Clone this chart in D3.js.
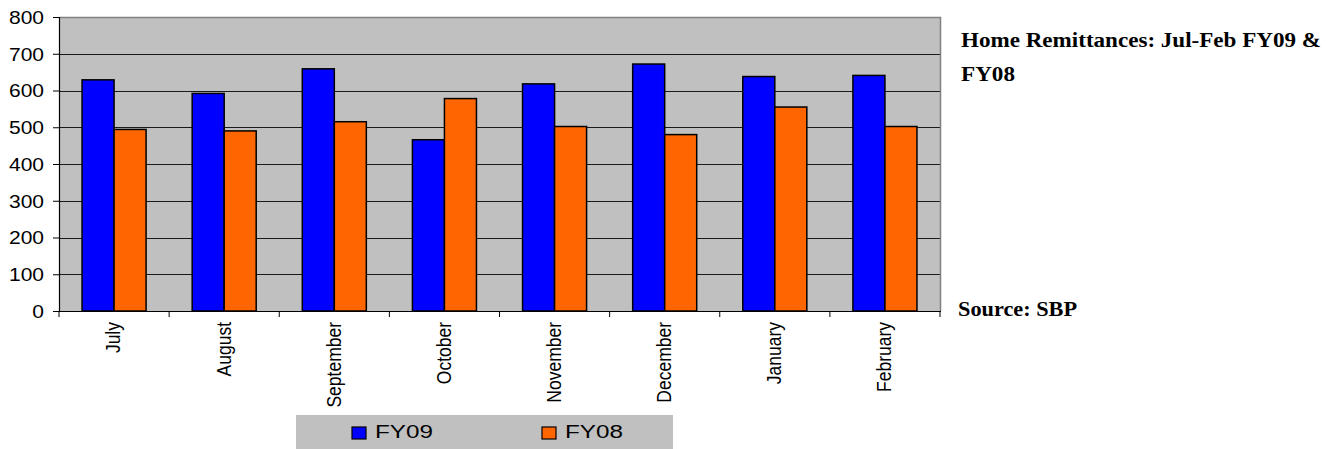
<!DOCTYPE html>
<html>
<head>
<meta charset="utf-8">
<script src="https://cdn.jsdelivr.net/npm/d3@7"></script>
<style>
html,body{margin:0;padding:0;background:#fff;}
svg{display:block;}
</style>
</head>
<body>
<svg id="chart" width="1339" height="449"></svg>
<script>
const months = ["July","August","September","October","November","December","January","February"];
const seriesNames = ["FY09","FY08"];
const fy09 = [629, 592, 659, 466, 618, 672, 638, 641];
const fy08 = [494, 490, 515, 578, 502, 480, 555, 502];
const yTicks = [0,100,200,300,400,500,600,700,800];
const colors = ["#0000ff","#ff6600"];
const titleLines = ["Home Remittances: Jul-Feb FY09 &","FY08"];
const sourceText = "Source: SBP";

(function(){
const svg = d3.select("#chart");
const pLeft = 59, pRight = 940, pTop = 17, pBottom = 311;

const x = d3.scaleBand().domain(months).range([pLeft, pRight]).padding(0);
const xs = d3.scaleBand().domain(seriesNames).range([0, x.bandwidth()]).paddingInner(0).paddingOuter(0.72);
const y = d3.scaleLinear().domain([0, 800]).range([pBottom, pTop]);

svg.append("rect").attr("x", pLeft).attr("y", pTop).attr("width", pRight-pLeft).attr("height", pBottom-pTop)
  .attr("fill", "#c0c0c0");

svg.append("g").selectAll("line").data(yTicks.filter(d => d > 0 && d < 800)).join("line")
  .attr("x1", pLeft).attr("x2", pRight)
  .attr("y1", d => Math.round(y(d)) + 0.5).attr("y2", d => Math.round(y(d)) + 0.5)
  .attr("stroke", "#1a1a1a").attr("stroke-width", 1);

svg.append("path")
  .attr("d", `M${pLeft},${pTop+0.5}H${pRight+0.5}V${pBottom}`)
  .attr("fill", "none").attr("stroke", "#808080").attr("stroke-width", 1.5);

const data = months.map((m, i) => ({month: m, vals: [{s: "FY09", v: fy09[i]}, {s: "FY08", v: fy08[i]}]}));
const groups = svg.append("g").selectAll("g").data(data).join("g")
  .attr("transform", d => `translate(${x(d.month)},0)`);
groups.selectAll("rect").data(d => d.vals).join("rect")
  .attr("x", d => xs(d.s))
  .attr("y", d => y(d.v))
  .attr("width", xs.bandwidth())
  .attr("height", d => y(0) - y(d.v))
  .attr("fill", (d, i) => colors[i])
  .attr("stroke", "#000").attr("stroke-width", 1.5);

const yAxis = svg.append("g").attr("transform", `translate(${pLeft},0)`)
  .call(d3.axisLeft(y).tickValues(yTicks).tickSize(6).tickPadding(0).tickFormat(d3.format("d")));
yAxis.select(".domain").attr("stroke", "#000").attr("stroke-width", 1.2);
yAxis.selectAll(".tick line").attr("stroke", "#000");
yAxis.selectAll(".tick text").remove();
yAxis.selectAll(".tick").append("text")
  .attr("transform", "translate(-15,0) scale(1.2,1)")
  .attr("text-anchor", "end").attr("dy", "0.36em")
  .attr("fill", "#000")
  .style("font-family", "Arial, 'Liberation Sans', sans-serif").style("font-size", "17.5px")
  .text(d => d);

const xAxis = svg.append("g").attr("transform", `translate(0,${pBottom})`);
xAxis.append("line").attr("x1", pLeft).attr("x2", pRight+1).attr("y1", 0.5).attr("y2", 0.5)
  .attr("stroke", "#000").attr("stroke-width", 1.2);
const boundaries = months.map(m => x(m)).concat([pRight]);
xAxis.selectAll("line.tk").data(boundaries).join("line").attr("class", "tk")
  .attr("x1", d => d).attr("x2", d => d).attr("y1", 0).attr("y2", 6)
  .attr("stroke", "#000");
xAxis.selectAll("text").data(months).join("text")
  .attr("transform", d => `translate(${x(d) + x.bandwidth()/2 - 1},11) scale(1.2,1) rotate(-90)`)
  .attr("text-anchor", "end").attr("dy", "0.35em")
  .attr("fill", "#000")
  .style("font-family", "Arial, 'Liberation Sans', sans-serif").style("font-size", "17.5px")
  .text(d => d);

const lg = svg.append("g");
lg.append("rect").attr("x", 296).attr("y", 415).attr("width", 377).attr("height", 34).attr("fill", "#c0c0c0");
const legX = [352, 542];
seriesNames.forEach((s, i) => {
  lg.append("rect").attr("x", legX[i]).attr("y", 427).attr("width", 14).attr("height", 12)
    .attr("fill", colors[i]).attr("stroke", "#000").attr("stroke-width", 1.2);
  lg.append("text").attr("x", legX[i] + 23).attr("y", 438)
    .attr("textLength", 58).attr("lengthAdjust", "spacingAndGlyphs")
    .style("font-family", "Arial, 'Liberation Sans', sans-serif").style("font-size", "18.5px")
    .attr("fill", "#000").text(s);
});

const tf = "'Liberation Serif', 'DejaVu Serif', serif";
svg.append("text").attr("x", 961).attr("y", 47)
  .attr("textLength", 360).attr("lengthAdjust", "spacingAndGlyphs")
  .style("font-family", tf).style("font-weight", "bold").style("font-size", "21.5px")
  .attr("fill", "#000").text(titleLines[0]);
svg.append("text").attr("x", 961).attr("y", 81)
  .attr("textLength", 54).attr("lengthAdjust", "spacingAndGlyphs")
  .style("font-family", tf).style("font-weight", "bold").style("font-size", "21.5px")
  .attr("fill", "#000").text(titleLines[1]);
svg.append("text").attr("x", 958).attr("y", 316)
  .attr("textLength", 119).attr("lengthAdjust", "spacingAndGlyphs")
  .style("font-family", tf).style("font-weight", "bold").style("font-size", "21.5px")
  .attr("fill", "#000").text(sourceText);
})();
</script>
</body>
</html>
